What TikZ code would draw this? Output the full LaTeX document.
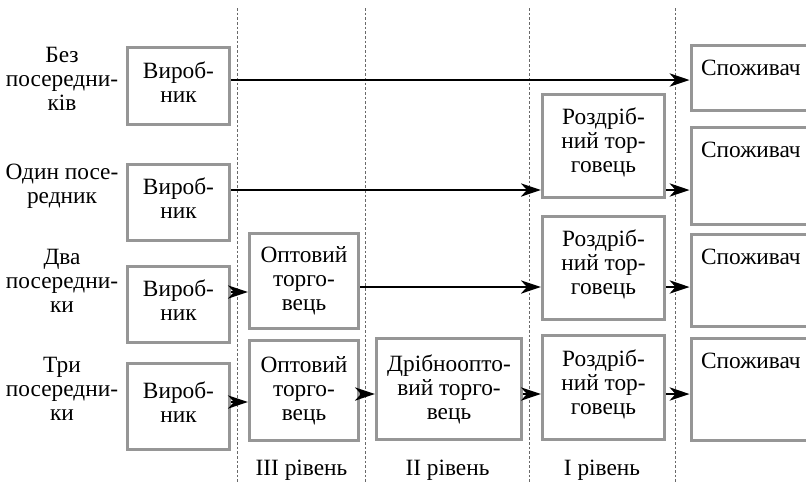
\documentclass[tikz,border=0pt]{standalone}
\usepackage{fontspec}
\setmainfont{Liberation Serif}
\usetikzlibrary{arrows.meta}

\definecolor{boxgray}{RGB}{150,150,150}
\definecolor{dashgray}{RGB}{105,105,105}

\begin{document}
\begin{tikzpicture}[x=0.75pt,y=0.75pt,yscale=-1,xscale=1,
  every node/.style={font=\fontsize{17.5}{18}\selectfont},
  box/.style={draw=boxgray, line width=2.4pt, align=center, inner sep=0pt},
  prodbox/.style={box, minimum width=76.5pt, minimum height=57.5pt, text depth=6pt},
  wholebox/.style={box, minimum width=81.75pt},
  smallbox/.style={box, minimum width=108.75pt},
  retailbox/.style={box, minimum width=91.5pt, minimum height=77.25pt, text depth=8.5pt},
  consbox/.style={box, anchor=west, align=left, text width=98pt, inner xsep=7.5pt},
  arr/.style={line width=1.1pt, -{Stealth[length=15pt,width=10pt,inset=4.5pt]}},
  level/.style={draw=dashgray, line width=0.5pt, dash pattern=on 2pt off 1.5pt},
  rowlabel/.style={align=center, inner sep=0pt}]
\path[use as bounding box] (0,0) rectangle (806,483);
\clip (0,0) rectangle (806,483);

% level separators
\foreach \x in {237.5,365.5,529.5,675}
  \draw[level] (\x,8) -- (\x,483);

% row labels
\node[rowlabel] (lab1) at (62,79) {Без\\посередни-\\ків};
\node[rowlabel] (lab2) at (62,186) {Один посе-\\редник};
\node[rowlabel] (lab3) at (62,281) {Два\\посередни-\\ки};
\node[rowlabel] (lab4) at (62,389) {Три\\посередни-\\ки};

% producers
\node[prodbox] (prod1) at (178.5,86) {Вироб-\\ник};
\node[prodbox] (prod2) at (178.5,202.5) {Вироб-\\ник};
\node[prodbox] (prod3) at (178.5,304.5) {Вироб-\\ник};
\node[prodbox, minimum height=64.5pt] (prod4) at (178.5,406.5) {Вироб-\\ник};

% wholesalers
\node[wholebox, minimum height=71.25pt] (whole1) at (304,281) {Оптовий\\торго-\\вець};
\node[wholebox, minimum height=75pt] (whole2) at (304,390.5) {Оптовий\\торго-\\вець};
\node[smallbox, minimum height=75.75pt] (small) at (449,389) {Дрібноопто-\\вий торго-\\вець};

% retailers
\node[retailbox] (retail1) at (603.5,146) {Роздріб-\\ний тор-\\говець};
\node[retailbox] (retail2) at (603.5,268) {Роздріб-\\ний тор-\\говець};
\node[retailbox, minimum height=78pt] (retail3) at (603.5,387.5) {Роздріб-\\ний тор-\\говець};

% consumers
\node[consbox, minimum height=48.75pt, text depth=15pt] (cons1) at (689.5,78) {Споживач};
\node[consbox, minimum height=72.75pt, text depth=39pt] (cons2) at (689.5,176) {Споживач};
\node[consbox, minimum height=69pt, text depth=35.3pt] (cons3) at (689.5,280.5) {Споживач};
\node[consbox, minimum height=76.5pt, text depth=42.8pt] (cons4) at (689.5,389.5) {Споживач};

% levels
\node (lev3) at (301.5,470) {III рівень};
\node (lev2) at (447.5,470) {II рівень};
\node (lev1) at (602,470) {I рівень};

% arrow heights
\coordinate (r1) at (0,80);
\coordinate (r2) at (0,190);
\coordinate (r3a) at (0,292);
\coordinate (r3b) at (0,287);
\coordinate (r4a) at (0,402);
\coordinate (r4b) at (0,394);

\draw[arr] (prod1.east |- r1) -- (cons1.west |- r1);
\draw[arr] (prod2.east |- r2) -- (retail1.west |- r2);
\draw[arr] (retail1.east |- r2) -- (cons2.west |- r2);
\draw[arr] (prod3.east |- r3a) -- (whole1.west |- r3a);
\draw[arr] (whole1.east |- r3b) -- (retail2.west |- r3b);
\draw[arr] (retail2.east |- r3b) -- (cons3.west |- r3b);
\draw[arr] (prod4.east |- r4a) -- (whole2.west |- r4a);
\draw[arr] (whole2.east |- r4b) -- (small.west |- r4b);
\draw[arr] (small.east |- r4b) -- (retail3.west |- r4b);
\draw[arr] (retail3.east |- r4b) -- (cons4.west |- r4b);

\end{tikzpicture}
\end{document}
